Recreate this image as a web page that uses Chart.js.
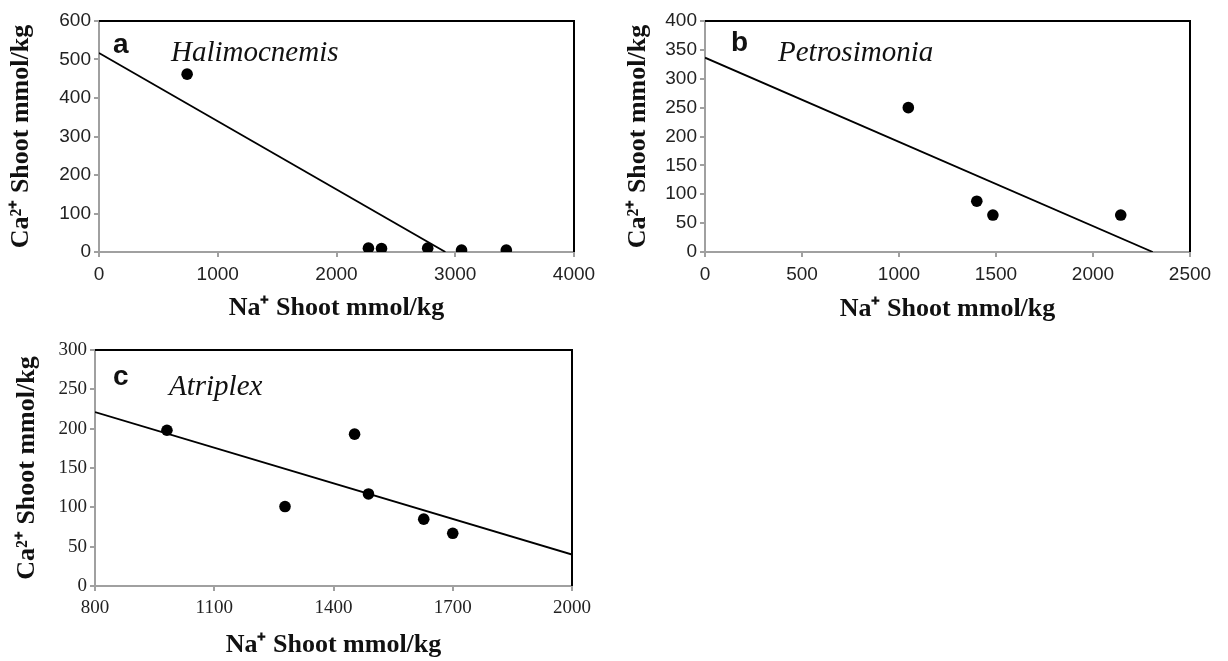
<!DOCTYPE html>
<html>
<head>
<meta charset="utf-8">
<script src="https://cdn.jsdelivr.net/npm/chart.js@4.4.0/dist/chart.umd.min.js"></script>
<style>
  body { margin: 0; background: #fff; }
  .panel { position: absolute; }
</style>
</head>
<body>
<div class="panel" style="left:0;top:0"><canvas id="graficaA" width="610" height="330"></canvas></div>
<div class="panel" style="left:610px;top:0"><canvas id="graficaB" width="618" height="330"></canvas></div>
<div class="panel" style="left:0;top:330px"><canvas id="graficaC" width="610" height="331"></canvas></div>
<script>
// Halimocnemis
const naA = [742, 2269, 2379, 2768, 3053, 3430]
const caA = [462, 10, 9, 10, 5, 5]
const fitA = [[0, 517], [2917, 0]]

// Petrosimonia
const naB = [1048, 1401, 1484, 2143]
const caB = [250, 88, 64, 64]
const fitB = [[0, 336.5], [2308, 0]]

// Atriplex
const naC = [981, 1278, 1453, 1488, 1627, 1700]
const caC = [198, 101, 193, 117, 85, 67]
const fitC = [[800, 221], [2000, 40]]

const tituloX = 'Na\u207A Shoot mmol/kg'
const tituloY = 'Ca\u00B2\u207A Shoot mmol/kg'

const puntos = (xs, ys) => xs.map((x, i) => ({x: x, y: ys[i]}))
const linea = f => f.map(p => ({x: p[0], y: p[1]}))

// marco negro arriba/derecha + letra y especie
const marco = {
  id: 'marco',
  afterDraw(chart, args, o) {
    const {ctx, chartArea: a} = chart
    ctx.save()
    ctx.strokeStyle = '#000'
    ctx.lineWidth = 2
    ctx.beginPath()
    ctx.moveTo(a.left, a.top)
    ctx.lineTo(a.right, a.top)
    ctx.lineTo(a.right, a.bottom)
    ctx.stroke()
    ctx.fillStyle = '#111'
    ctx.textBaseline = 'middle'
    ctx.font = 'bold 28px "Liberation Sans"'
    ctx.fillText(o.letra, a.left + o.lx, a.top + o.ly)
    ctx.font = 'italic 29px "Liberation Serif"'
    ctx.fillText(o.nombre, a.left + o.nx, a.top + o.ny)
    ctx.restore()
  }
}

function hacerGrafica(id, cfg) {
  const tickFont = {family: cfg.tickFamily, size: cfg.tickSize}
  const titleFont = {family: 'Liberation Serif', size: 26, weight: 'bold'}
  const gris = '#a0a0a0'
  return new Chart(document.getElementById(id), {
    type: 'scatter',
    data: {
      datasets: [
        {
          data: puntos(cfg.xs, cfg.ys),
          backgroundColor: '#000',
          borderColor: '#000',
          pointRadius: 5.8,
          pointBorderWidth: 0
        },
        {
          data: linea(cfg.fit),
          showLine: true,
          borderColor: '#000',
          borderWidth: 1.8,
          pointRadius: 0
        }
      ]
    },
    options: {
      responsive: false,
      animation: false,
      layout: {padding: cfg.padding},
      plugins: {
        legend: {display: false},
        tooltip: {enabled: false},
        marco: cfg.marco
      },
      scales: {
        x: {
          type: 'linear',
          min: cfg.xmin, max: cfg.xmax,
          afterFit: s => { s.height = cfg.xh },
          ticks: {stepSize: cfg.xstep, font: tickFont, color: '#222', padding: 6, maxRotation: 0, callback: v => v},
          grid: {drawOnChartArea: false, tickLength: 5, color: gris, lineWidth: 2},
          border: {color: gris, width: 2},
          title: {display: true, text: tituloX, font: titleFont, color: '#111', padding: {top: 0, bottom: cfg.xtp}}
        },
        y: {
          min: cfg.ymin, max: cfg.ymax,
          afterFit: s => { s.width = cfg.yw },
          ticks: {stepSize: cfg.ystep, font: tickFont, color: '#222', padding: 3, callback: v => v},
          grid: {drawOnChartArea: false, tickLength: 5, color: gris, lineWidth: 2},
          border: {color: gris, width: 2},
          title: {display: true, text: tituloY, font: titleFont, color: '#111', padding: {top: cfg.ytp, bottom: 0}}
        }
      }
    },
    plugins: [marco]
  })
}

const graficaA = hacerGrafica('graficaA', {
  xs: naA, ys: caA, fit: fitA,
  xmin: 0, xmax: 4000, xstep: 1000, ymin: 0, ymax: 600, ystep: 100,
  tickFamily: 'Liberation Sans', tickSize: 19,
  padding: {left: 0, top: 21, right: 36, bottom: 0},
  yw: 99, xh: 78, ytp: 6, xtp: 6,
  marco: {letra: 'a', nombre: 'Halimocnemis', lx: 14, ly: 24, nx: 72, ny: 32}
})

const graficaB = hacerGrafica('graficaB', {
  xs: naB, ys: caB, fit: fitB,
  xmin: 0, xmax: 2500, xstep: 500, ymin: 0, ymax: 400, ystep: 50,
  tickFamily: 'Liberation Sans', tickSize: 19,
  padding: {left: 0, top: 21, right: 38, bottom: 0},
  yw: 95, xh: 78, ytp: 13, xtp: 5,
  marco: {letra: 'b', nombre: 'Petrosimonia', lx: 26, ly: 22, nx: 73, ny: 32}
})

const graficaC = hacerGrafica('graficaC', {
  xs: naC, ys: caC, fit: fitC,
  xmin: 800, xmax: 2000, xstep: 300, ymin: 0, ymax: 300, ystep: 50,
  tickFamily: 'Liberation Serif', tickSize: 19,
  padding: {left: 0, top: 20, right: 38, bottom: 0},
  yw: 95, xh: 75, ytp: 12, xtp: 0,
  marco: {letra: 'c', nombre: 'Atriplex', lx: 18, ly: 27, nx: 74, ny: 37}
})
</script>
</body>
</html>
